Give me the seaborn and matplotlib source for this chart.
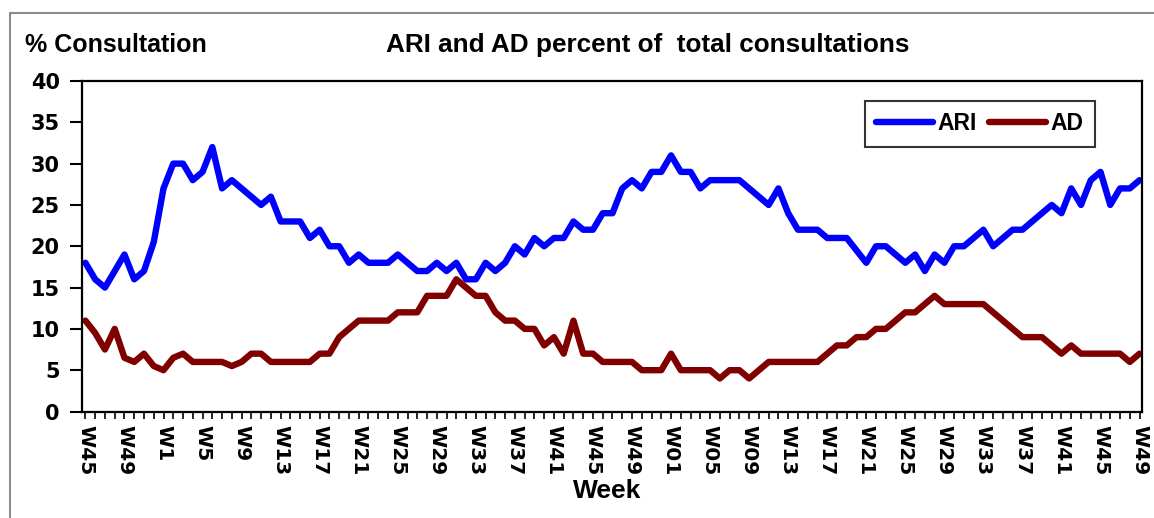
import numpy as np
import pandas as pd
import matplotlib
matplotlib.use("Agg")
import matplotlib.pyplot as plt
import seaborn as sns
from matplotlib.lines import Line2D

# weekly % of total consultations, W45 (year 1) .. W49 (year 3)
ari = [18, 16, 15, 17, 19, 16, 17, 20.5, 27, 30, 30, 28, 29, 32, 27, 28, 27, 26, 25, 26,
       23, 23, 23, 21, 22, 20, 20, 18, 19, 18, 18, 18, 19, 18, 17, 17, 18, 17, 18, 16,
       16, 18, 17, 18, 20, 19, 21, 20, 21, 21, 23, 22, 22, 24, 24, 27, 28, 27, 29, 29,
       31, 29, 29, 27, 28, 28, 28, 28, 27, 26, 25, 27, 24, 22, 22, 22, 21, 21, 21, 19.5,
       18, 20, 20, 19, 18, 19, 17, 19, 18, 20, 20, 21, 22, 20, 21, 22, 22, 23, 24, 25,
       24, 27, 25, 28, 29, 25, 27, 27, 28]
ad = [11, 9.5, 7.5, 10, 6.5, 6, 7, 5.5, 5, 6.5, 7, 6, 6, 6, 6, 5.5, 6, 7, 7, 6,
      6, 6, 6, 6, 7, 7, 9, 10, 11, 11, 11, 11, 12, 12, 12, 14, 14, 14, 16, 15,
      14, 14, 12, 11, 11, 10, 10, 8, 9, 7, 11, 7, 7, 6, 6, 6, 6, 5, 5, 5,
      7, 5, 5, 5, 5, 4, 5, 5, 4, 5, 6, 6, 6, 6, 6, 6, 7, 8, 8, 9,
      9, 10, 10, 11, 12, 12, 13, 14, 13, 13, 13, 13, 13, 12, 11, 10, 9, 9, 9, 8,
      7, 8, 7, 7, 7, 7, 7, 6, 7]
tick_labels = ["W45", "W49", "W1", "W5", "W9", "W13", "W17", "W21", "W25", "W29",
               "W33", "W37", "W41", "W45", "W49", "W01", "W05", "W09", "W13", "W17",
               "W21", "W25", "W29", "W33", "W37", "W41", "W45", "W49"]
series = ["ARI", "AD"]
colors = ["#0000FF", "#800000"]

df = pd.DataFrame({"week": np.arange(len(ari)), "ARI": ari, "AD": ad})
long = df.melt(id_vars="week", value_vars=series, var_name="series", value_name="pct")

sns.set_style("white")
plt.rcParams["font.family"] = ["Liberation Sans", "DejaVu Sans"]
plt.rcParams["font.weight"] = "bold"
plt.rcParams["text.color"] = "black"
plt.rcParams["xtick.color"] = "black"
plt.rcParams["ytick.color"] = "black"

W, H = 1154, 518
fig = plt.figure(figsize=(W / 100, H / 100), dpi=100)
ax = fig.add_axes([82 / W, 1 - 411.5 / H, 1060 / W, 330.5 / H])

sns.lineplot(data=long, x="week", y="pct", hue="series", hue_order=series,
             palette=dict(zip(series, colors)), linewidth=4.6, ax=ax,
             solid_capstyle="round", solid_joinstyle="round")

ax.set_xlim(-0.35, len(ari) - 1 + 0.25)
ax.set_ylim(0, 40)
ax.set_yticks(np.arange(0, 41, 5))
ax.set_xticks(np.arange(len(ari)), minor=True)
ax.set_xticks(np.arange(0, len(ari), 4))
ax.set_xticklabels(tick_labels, rotation=270, fontfamily="DejaVu Sans",
                   fontweight="bold", fontsize=14.5, va="top", ha="center")
for lab in ax.get_yticklabels():
    lab.set_fontfamily("DejaVu Sans")
    lab.set_fontweight("bold")
    lab.set_fontsize(15)
ax.tick_params(axis="y", direction="out", length=9, width=1.5, colors="black", pad=7, left=True)
ax.tick_params(axis="x", which="both", direction="out", length=5, width=1.2, colors="black",
               pad=5, bottom=True)
ax.set_xlabel("")
ax.set_ylabel("")
for sp in ax.spines.values():
    sp.set_color("black")
    sp.set_linewidth(1.6)

handles = [Line2D([], [], color=c, lw=4.6, solid_capstyle="round") for c in colors]
leg = ax.legend(handles, series, ncol=2, loc="center",
                bbox_to_anchor=(0.847, 0.87), fontsize=16.5, handlelength=2.5,
                handletextpad=0.2, columnspacing=0.5, frameon=True, fancybox=False,
                borderpad=0.5, borderaxespad=0)
leg.get_frame().set_edgecolor("black")
leg.get_frame().set_linewidth(1.5)
for t in leg.get_texts():
    t.set_fontweight("bold")
    t.set_color("black")

fig.text(25 / W, 1 - 45 / H, "% Consultation", fontsize=18, fontweight="bold", va="center", ha="left")
fig.text(648 / W, 1 - 45 / H, "ARI and AD percent of  total consultations", fontsize=18.8,
         fontweight="bold", va="center", ha="center")
fig.text(607 / W, 1 - 491 / H, "Week", fontsize=19, fontweight="bold", va="center", ha="center")

# grey outer frame of the chart area
fig.add_artist(Line2D([9.5 / W, 9.5 / W], [0, 1 - 13 / H], color="#8c8c8c", lw=1.5))
fig.add_artist(Line2D([9.5 / W, 1], [1 - 13 / H, 1 - 13 / H], color="#8c8c8c", lw=1.5))

fig.savefig("out.png", dpi=100)
